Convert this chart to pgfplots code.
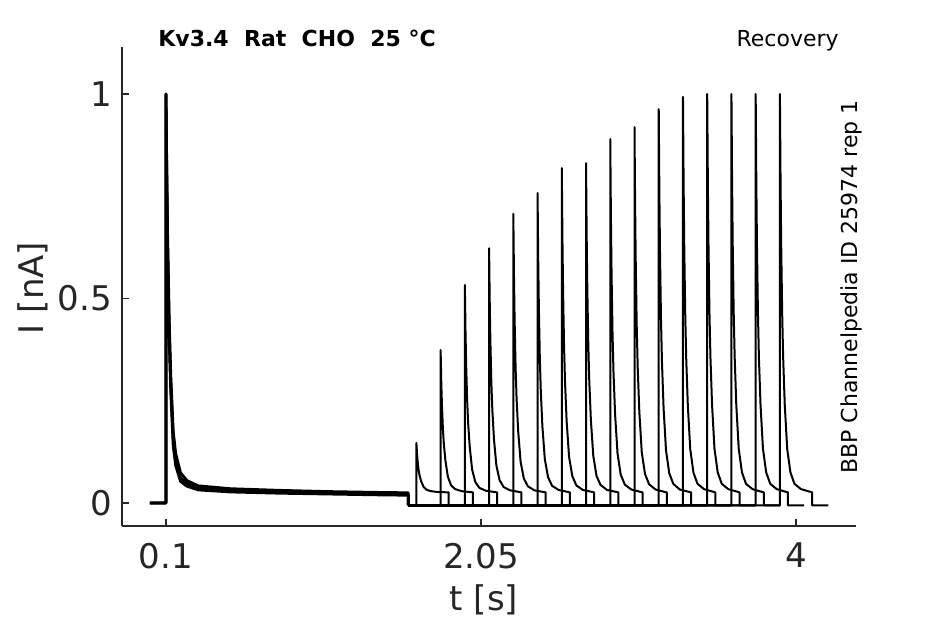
\documentclass[border=0pt]{standalone}
\usepackage{pgfplots}
\pgfplotsset{compat=1.18}
\usepackage{fontspec}
\setmainfont{DejaVu Sans}
\definecolor{axgray}{HTML}{262626}
\begin{document}
\begin{tikzpicture}[x=1pt,y=1pt]
\path[use as bounding box] (0,0) rectangle (472.5,312);
\begin{axis}[
  at={(61pt,49pt)}, anchor=south west,
  scale only axis, width=367pt, height=239.5pt,
  xmin=-0.172, xmax=4.371, ymin=-0.0562, ymax=1.115,
  axis lines=left, axis line style={-, axgray, line width=0.6pt},
  tick align=inside, major tick length=3.5pt,
  tick style={axgray, line width=0.6pt},
  xtick={0.1,2.05,4}, xticklabels={0.1,2.05,4},
  ytick={0,0.5,1}, yticklabels={0,0.5,1},
  /pgf/number format/assume math mode=true,
  ticklabel style={font=\fontsize{17}{20}\selectfont, text=axgray},
  xticklabel style={yshift=-5pt},
  yticklabel style={xshift=-1.6pt},
  xlabel={t [s]}, ylabel={I [nA]},
  label style={font=\fontsize{17}{20}\selectfont, text=axgray},
  xlabel style={at={(axis description cs:0.493,-0.1545)}, anchor=center},
  ylabel style={at={(axis description cs:-0.1213,0.497)}, anchor=center},
  clip=false,
  cycle list={black},
  no markers,
  every axis plot/.append style={line width=1pt, line join=round, solid},
]
% first pulse (variants to show the spread of the overlaid sweeps)
\addplot[line width=1.4pt] coordinates {(0,0) (0.1,0) (0.1,1.0) (0.105,0.82) (0.11,0.66) (0.12,0.45) (0.13,0.31) (0.145,0.175) (0.16,0.122) (0.19,0.074) (0.23,0.055) (0.3,0.042) (0.5,0.035) (0.8,0.031) (1.1,0.028) (1.4,0.026) (1.6,0.025) (1.6,-0.006)};
\addplot[line width=1.4pt] coordinates {(0,0) (0.1,0) (0.1,1.0) (0.105,0.80) (0.11,0.63) (0.12,0.42) (0.13,0.29) (0.145,0.155) (0.16,0.105) (0.19,0.062) (0.23,0.048) (0.3,0.037) (0.5,0.031) (0.8,0.027) (1.1,0.025) (1.4,0.023) (1.6,0.022) (1.6,-0.006)};
\addplot[line width=1.4pt] coordinates {(0,0) (0.1,0) (0.1,1.0) (0.105,0.78) (0.11,0.61) (0.12,0.40) (0.13,0.27) (0.145,0.140) (0.16,0.092) (0.19,0.053) (0.23,0.041) (0.3,0.032) (0.5,0.027) (0.8,0.024) (1.1,0.022) (1.4,0.020) (1.6,0.019) (1.6,-0.006)};
% second pulses
\addplot coordinates {(1.6,-0.006) (1.650,-0.006) (1.650,0.147) (1.654,0.120) (1.658,0.101) (1.664,0.080) (1.670,0.067) (1.680,0.053) (1.695,0.039) (1.715,0.032) (1.740,0.029) (1.780,0.027) (1.850,0.026) (1.850,-0.006) (1.950,-0.006)};
\addplot coordinates {(1.6,-0.006) (1.800,-0.006) (1.800,0.374) (1.804,0.297) (1.808,0.242) (1.814,0.183) (1.820,0.144) (1.830,0.103) (1.845,0.064) (1.865,0.043) (1.890,0.034) (1.930,0.029) (2.000,0.026) (2.000,-0.006) (2.100,-0.006)};
\addplot coordinates {(1.6,-0.006) (1.950,-0.006) (1.950,0.533) (1.954,0.421) (1.958,0.340) (1.964,0.254) (1.970,0.198) (1.980,0.138) (1.995,0.082) (2.015,0.051) (2.040,0.037) (2.080,0.030) (2.150,0.026) (2.150,-0.006) (2.250,-0.006)};
\addplot coordinates {(1.6,-0.006) (2.100,-0.006) (2.100,0.623) (2.104,0.492) (2.108,0.396) (2.114,0.295) (2.120,0.229) (2.130,0.157) (2.145,0.092) (2.165,0.056) (2.190,0.039) (2.230,0.031) (2.300,0.026) (2.300,-0.006) (2.400,-0.006)};
\addplot coordinates {(1.6,-0.006) (2.250,-0.006) (2.250,0.707) (2.254,0.557) (2.258,0.448) (2.264,0.332) (2.270,0.258) (2.280,0.176) (2.295,0.101) (2.315,0.060) (2.340,0.041) (2.380,0.031) (2.450,0.026) (2.450,-0.006) (2.550,-0.006)};
\addplot coordinates {(1.6,-0.006) (2.400,-0.006) (2.400,0.758) (2.404,0.597) (2.408,0.480) (2.414,0.355) (2.420,0.275) (2.430,0.187) (2.445,0.107) (2.465,0.063) (2.490,0.042) (2.530,0.032) (2.600,0.026) (2.600,-0.006) (2.700,-0.006)};
\addplot coordinates {(1.6,-0.006) (2.550,-0.006) (2.550,0.819) (2.554,0.645) (2.558,0.518) (2.564,0.383) (2.570,0.296) (2.580,0.200) (2.595,0.113) (2.615,0.066) (2.640,0.043) (2.680,0.032) (2.750,0.026) (2.750,-0.006) (2.850,-0.006)};
\addplot coordinates {(1.6,-0.006) (2.700,-0.006) (2.700,0.831) (2.704,0.654) (2.708,0.525) (2.714,0.388) (2.720,0.300) (2.730,0.203) (2.745,0.115) (2.765,0.066) (2.790,0.044) (2.830,0.032) (2.900,0.026) (2.900,-0.006) (3.000,-0.006)};
\addplot coordinates {(1.6,-0.006) (2.850,-0.006) (2.850,0.890) (2.854,0.700) (2.858,0.562) (2.864,0.415) (2.870,0.320) (2.880,0.216) (2.895,0.121) (2.915,0.069) (2.940,0.045) (2.980,0.033) (3.050,0.026) (3.050,-0.006) (3.150,-0.006)};
\addplot coordinates {(1.6,-0.006) (3.000,-0.006) (3.000,0.919) (3.004,0.723) (3.008,0.580) (3.014,0.428) (3.020,0.330) (3.030,0.222) (3.045,0.124) (3.065,0.071) (3.090,0.046) (3.130,0.033) (3.200,0.026) (3.200,-0.006) (3.300,-0.006)};
\addplot coordinates {(1.6,-0.006) (3.150,-0.006) (3.150,0.963) (3.154,0.757) (3.158,0.607) (3.164,0.448) (3.170,0.345) (3.180,0.232) (3.195,0.129) (3.215,0.073) (3.240,0.047) (3.280,0.033) (3.350,0.026) (3.350,-0.006) (3.450,-0.006)};
\addplot coordinates {(1.6,-0.006) (3.300,-0.006) (3.300,0.993) (3.304,0.780) (3.308,0.626) (3.314,0.461) (3.320,0.355) (3.330,0.239) (3.345,0.132) (3.365,0.074) (3.390,0.047) (3.430,0.034) (3.500,0.026) (3.500,-0.006) (3.600,-0.006)};
\addplot coordinates {(1.6,-0.006) (3.450,-0.006) (3.450,1.000) (3.454,0.786) (3.458,0.630) (3.464,0.464) (3.470,0.357) (3.480,0.240) (3.495,0.133) (3.515,0.075) (3.540,0.047) (3.580,0.034) (3.650,0.026) (3.650,-0.006) (3.750,-0.006)};
\addplot coordinates {(1.6,-0.006) (3.600,-0.006) (3.600,1.000) (3.604,0.786) (3.608,0.630) (3.614,0.464) (3.620,0.357) (3.630,0.240) (3.645,0.133) (3.665,0.075) (3.690,0.047) (3.730,0.034) (3.800,0.026) (3.800,-0.006) (3.900,-0.006)};
\addplot coordinates {(1.6,-0.006) (3.750,-0.006) (3.750,1.000) (3.754,0.786) (3.758,0.630) (3.764,0.464) (3.770,0.357) (3.780,0.240) (3.795,0.133) (3.815,0.075) (3.840,0.047) (3.880,0.034) (3.950,0.026) (3.950,-0.006) (4.050,-0.006)};
\addplot coordinates {(1.6,-0.006) (3.900,-0.006) (3.900,1.000) (3.904,0.786) (3.908,0.630) (3.914,0.464) (3.920,0.357) (3.930,0.240) (3.945,0.133) (3.965,0.075) (3.990,0.047) (4.030,0.034) (4.100,0.026) (4.100,-0.006) (4.200,-0.006)};
\end{axis}
\node[anchor=base west, inner sep=0, font=\fontsize{11}{13}\selectfont\bfseries] at (79pt,288.7pt) {Kv3.4\ \ Rat\ \ CHO\ \ 25 °C};
\node[anchor=base east, inner sep=0, font=\fontsize{11}{13}\selectfont] at (419.5pt,288.7pt) {Recovery};
\node[anchor=base west, inner sep=0, rotate=90, font=\fontsize{11}{13}\selectfont] at (428.7pt,75pt) {BBP Channelpedia ID 25974 rep 1};
\end{tikzpicture}
\end{document}
